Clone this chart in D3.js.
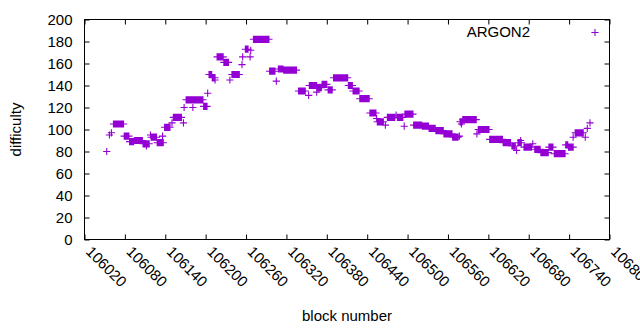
<!DOCTYPE html>
<html>
<head>
<meta charset="utf-8">
<script src="https://cdn.jsdelivr.net/npm/d3@7"></script>
<style>
    body { margin: 0; background: #fff; }
    text { font-family: "Liberation Sans", Arial, sans-serif; font-size: 15px; fill: #000; }
</style>
</head>
<body>
<div id="chart"></div>
<script>
// Data: runs of consecutive blocks sharing the same difficulty
const runStart = [106053, 106057, 106060, 106063, 106079, 106087, 106094, 106107, 106112, 106118,
    106119, 106128, 106136, 106139, 106150, 106152, 106167, 106168, 106171, 106181,
    106197, 106203, 106205, 106210, 106214, 106217, 106227, 106236, 106239, 106254,
    106255, 106259, 106266, 106267, 106271, 106295, 106305, 106308, 106316, 106338,
    106353, 106354, 106365, 106366, 106373, 106382, 106390, 106412, 106419, 106429,
    106444, 106454, 106455, 106467, 106470, 106483, 106485, 106495, 106496, 106509,
    106522, 106532, 106542, 106554, 106567, 106577, 106578, 106580, 106582, 106603,
    106605, 106622, 106642, 106655, 106662, 106664, 106668, 106673, 106686, 106689,
    106698, 106710, 106718, 106735, 106739, 106746, 106749, 106764, 106767, 106771];
const runEnd = [106053, 106057, 106060, 106078, 106086, 106093, 106106, 106116, 106112, 106118,
    106127, 106137, 106136, 106147, 106150, 106164, 106167, 106168, 106196, 106181,
    106202, 106203, 106209, 106214, 106214, 106226, 106234, 106236, 106250, 106254,
    106255, 106263, 106266, 106267, 106294, 106303, 106305, 106315, 106335, 106348,
    106353, 106365, 106365, 106372, 106380, 106388, 106411, 106418, 106428, 106443,
    106453, 106454, 106464, 106467, 106481, 106483, 106493, 106495, 106508, 106521,
    106531, 106541, 106553, 106566, 106575, 106577, 106581, 106580, 106602, 106603,
    106621, 106641, 106653, 106660, 106662, 106669, 106668, 106684, 106686, 106697,
    106709, 106716, 106734, 106738, 106746, 106746, 106761, 106764, 106767, 106771];
const runDifficulty = [80, 95, 97, 105, 94, 89, 90, 87, 85, 95,
    93, 88, 94, 102, 106, 111, 106, 120, 127, 120,
    121, 133, 150, 147, 145, 166, 161, 145, 150, 159,
    166, 173, 166, 172, 182, 153, 144, 155, 154, 135,
    131, 140, 134, 138, 141, 136, 147, 140, 135, 128,
    115, 110, 107, 104, 111, 113, 111, 103, 114, 104,
    103, 101, 99, 96, 93, 94, 107, 105, 109, 96,
    100, 91, 88, 85, 81, 88, 90, 84, 87, 82,
    79, 84, 78, 86, 84, 93, 97, 93, 101, 106];

const xTickValues = [106020, 106080, 106140, 106200, 106260, 106320, 106380,
    106440, 106500, 106560, 106620, 106680, 106740, 106800];
const yTickValues = [0, 20, 40, 60, 80, 100, 120, 140, 160, 180, 200];
const seriesName = 'ARGON2';

// Configuration
const config = {
    width: 640,
    height: 330,
    plot: { left: 84.5, right: 609.5, top: 19.5, bottom: 239.5 },
    color: '#9400d3',
    tickSize: 5,
    pointHalf: 3.6
};

// Expand runs into one point per block
const points = [];
runStart.forEach((s, i) => {
    for (let b = s; b <= runEnd[i]; b++) {
        points.push({ block: b, difficulty: runDifficulty[i] });
    }
});

const svg = d3.select('#chart')
    .append('svg')
    .attr('width', config.width)
    .attr('height', config.height);

const xScale = d3.scaleLinear()
    .domain([xTickValues[0], xTickValues[xTickValues.length - 1]])
    .range([config.plot.left, config.plot.right]);

const yScale = d3.scaleLinear()
    .domain([0, 200])
    .range([config.plot.bottom, config.plot.top]);

// Axes with inward ticks
const xAxis = svg.append('g')
    .attr('transform', `translate(0,${config.plot.bottom})`)
    .call(d3.axisBottom(xScale).tickValues(xTickValues).tickSize(-config.tickSize).tickFormat(d3.format('d')));

xAxis.selectAll('.tick text')
    .attr('x', 0)
    .attr('y', 0)
    .attr('dy', null)
    .attr('text-anchor', 'start')
    .attr('transform', 'translate(0,13) rotate(45)');

const yAxis = svg.append('g')
    .attr('transform', `translate(${config.plot.left},0)`)
    .call(d3.axisLeft(yScale).tickValues(yTickValues).tickSize(-config.tickSize));

yAxis.selectAll('.tick text').attr('x', -12);

// Mirror ticks on top and right
svg.append('g')
    .attr('transform', `translate(0,${config.plot.top})`)
    .call(d3.axisTop(xScale).tickValues(xTickValues).tickSize(-config.tickSize).tickFormat(''));

svg.append('g')
    .attr('transform', `translate(${config.plot.right},0)`)
    .call(d3.axisRight(yScale).tickValues(yTickValues).tickSize(-config.tickSize).tickFormat(''));

svg.selectAll('.domain').remove();
svg.selectAll('.tick line').attr('stroke', '#000');
svg.selectAll('.tick text').style('font-size', '15px').style('font-family', '"Liberation Sans", Arial, sans-serif');

// Border
svg.append('rect')
    .attr('x', config.plot.left)
    .attr('y', config.plot.top)
    .attr('width', config.plot.right - config.plot.left)
    .attr('height', config.plot.bottom - config.plot.top)
    .attr('fill', 'none')
    .attr('stroke', '#000')
    .attr('stroke-width', 1);

// Plus markers
const plusPath = d => {
    const cx = xScale(d.block), cy = yScale(d.difficulty), h = config.pointHalf;
    return `M${cx - h},${cy}H${cx + h}M${cx},${cy - h}V${cy + h}`;
};

svg.append('path')
    .attr('fill', 'none')
    .attr('stroke', config.color)
    .attr('stroke-width', 1.1)
    .attr('d', points.map(plusPath).join(''));

// Axis titles
svg.append('text')
    .attr('transform', `translate(21,${(config.plot.top + config.plot.bottom) / 2}) rotate(-90)`)
    .attr('text-anchor', 'middle')
    .text('difficulty');

svg.append('text')
    .attr('x', (config.plot.left + config.plot.right) / 2)
    .attr('y', 321)
    .attr('text-anchor', 'middle')
    .text('block number');

// Legend
svg.append('text')
    .attr('x', 530)
    .attr('y', 37)
    .attr('text-anchor', 'end')
    .text(seriesName);

svg.append('path')
    .attr('fill', 'none')
    .attr('stroke', config.color)
    .attr('stroke-width', 1.1)
    .attr('d', plusPath({ block: xScale.invert(595), difficulty: yScale.invert(32.5) }));
</script>
</body>
</html>
